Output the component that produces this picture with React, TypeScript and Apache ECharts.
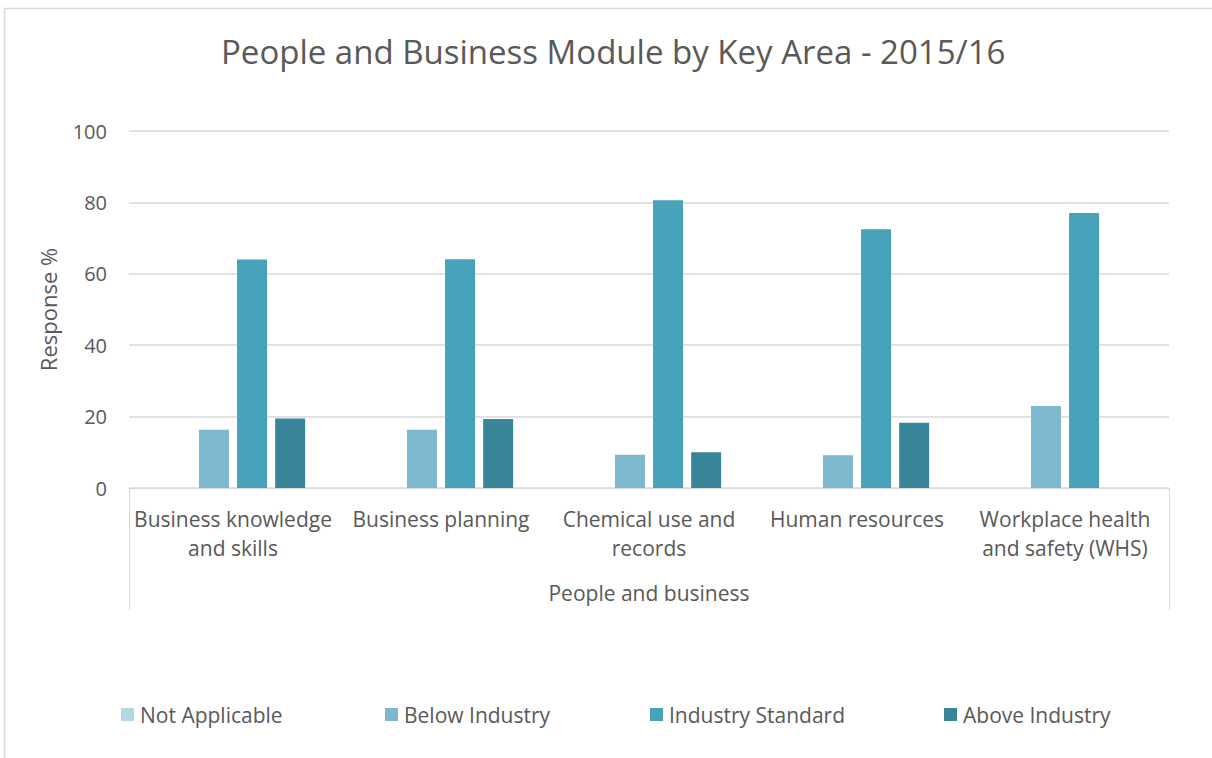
import React, { useEffect, useRef } from "react";
import * as echarts from "echarts";

const categories = [
  "Business knowledge and skills",
  "Business planning",
  "Chemical use and records",
  "Human resources",
  "Workplace health and safety (WHS)",
];
const categoryLabels = [
  "Business knowledge\nand skills",
  "Business planning",
  "Chemical use and\nrecords",
  "Human resources",
  "Workplace health\nand safety (WHS)",
];
const groupLabel = ["People and business"];
const seriesNames = ["Not Applicable", "Below Industry", "Industry Standard", "Above Industry"];
const notApplicable = [0, 0, 0, 0, 0];
const belowIndustry = [16.3, 16.3, 9.3, 9.2, 23.0];
const industryStandard = [64.0, 64.1, 80.6, 72.5, 77.0];
const aboveIndustry = [19.5, 19.3, 10.0, 18.3, 0];
const yTicks = { min: 0, max: 100, interval: 20 };

const colors = ["#b5d7e2", "#7db9ce", "#48a2ba", "#39869b"];
const textColor = "#595959";
const gridColor = "#d9d9d9";
const font = "'Open Sans', sans-serif";

export default function App() {
  const ref = useRef<HTMLDivElement>(null);
  useEffect(() => {
    if (!ref.current) return;
    const chart = echarts.init(ref.current, undefined, { renderer: "svg" });
    const values = [notApplicable, belowIndustry, industryStandard, aboveIndustry];
    const legendLefts = [116, 380, 645, 939];
    chart.setOption({
      animation: false,
      backgroundColor: "#ffffff",
      textStyle: { fontFamily: font },
      title: {
        text: "People and Business Module by Key Area - 2015/16",
        left: 216,
        top: 30,
        textStyle: { fontFamily: font, fontSize: 33, fontWeight: "normal", color: textColor },
      },
      legend: seriesNames.map((n, i) => ({
        data: [n],
        left: legendLefts[i],
        top: 699,
        itemWidth: 13,
        itemHeight: 13,
        icon: "rect",
        textStyle: { fontFamily: font, fontSize: 21, color: textColor, padding: [0, 0, 0, 1] },
      })),
      grid: { left: 129, right: 43, top: 131, bottom: 270 },
      xAxis: [
        {
          type: "category",
          data: categories,
          axisLine: { show: true, lineStyle: { color: gridColor, width: 1 } },
          axisTick: { show: false },
          axisLabel: {
            interval: 0,
            margin: 16,
            color: textColor,
            fontFamily: font,
            fontSize: 21,
            lineHeight: 29,
            formatter: (_v: string, idx: number) => categoryLabels[idx],
          },
        },
        {
          type: "category",
          data: groupLabel,
          position: "bottom",
          axisLine: { show: false },
          axisTick: { show: true, length: 122, lineStyle: { color: gridColor, width: 1 } },
          axisLabel: { interval: 0, margin: 94, color: textColor, fontFamily: font, fontSize: 21 },
        },
      ],
      yAxis: {
        type: "value",
        min: yTicks.min,
        max: yTicks.max,
        interval: yTicks.interval,
        name: "Response %",
        nameLocation: "middle",
        nameGap: 70,
        nameRotate: 90,
        nameTextStyle: { color: textColor, fontFamily: font, fontSize: 22 },
        axisLine: { show: false },
        axisTick: { show: false },
        axisLabel: { color: textColor, fontFamily: font, fontSize: 20, margin: 22 },
        splitLine: { lineStyle: { color: gridColor, width: 1.5 } },
      },
      series: seriesNames.map((n, i) => ({
        name: n,
        type: "bar",
        xAxisIndex: 0,
        data: values[i],
        barWidth: 30,
        barGap: "27%",
        itemStyle: { color: colors[i] },
      })),
      graphic: [
        { type: "line", shape: { x1: 4, y1: 8.5, x2: 1212, y2: 8.5 }, style: { stroke: gridColor, lineWidth: 1.5 } },
        { type: "line", shape: { x1: 4.5, y1: 8, x2: 4.5, y2: 758 }, style: { stroke: gridColor, lineWidth: 1.5 } },
      ],
    });
    return () => chart.dispose();
  }, []);
  return <div ref={ref} style={{ position: "absolute", left: 0, top: 0, width: 1212, height: 758 }} />;
}
